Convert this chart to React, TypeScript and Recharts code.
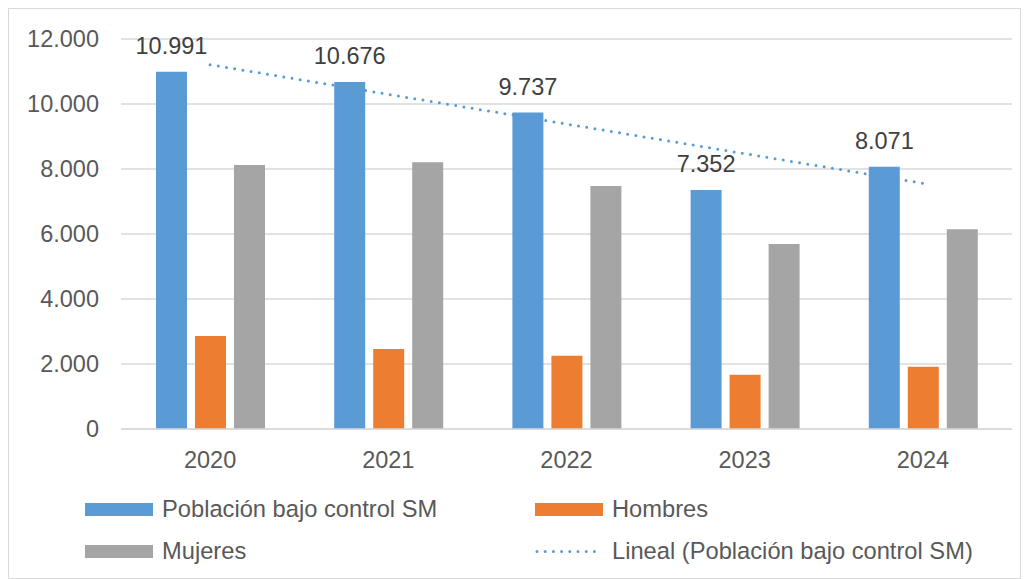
import React from 'react';
import { ComposedChart, Bar, Line, XAxis, YAxis, CartesianGrid, LabelList } from 'recharts';

const years = ['2020', '2021', '2022', '2023', '2024'];
const poblacion = [10991, 10676, 9737, 7352, 8071];
const hombres = [2862, 2462, 2257, 1670, 1915];
const mujeres = [8125, 8205, 7480, 5690, 6150];
const trendValues = [11210, null, null, null, 7560];
const yTicks = [0, 2000, 4000, 6000, 8000, 10000, 12000];

const BLUE = '#5B9BD5';
const ORANGE = '#ED7D31';
const GRAY = '#A5A5A5';
const TEXT = '#595959';
const FONT = '"Liberation Sans", Arial, sans-serif';

const data = years.map((y, i) => ({
  year: y,
  poblacion: poblacion[i],
  hombres: hombres[i],
  mujeres: mujeres[i],
  trend: trendValues[i],
}));

const fmt = (v: number) => String(Math.round(v)).replace(/\B(?=(\d{3})+(?!\d))/g, '.');

const legendItems = [
  { name: 'Población bajo control SM', color: BLUE, type: 'rect', left: 76, top: 487 },
  { name: 'Hombres', color: ORANGE, type: 'rect', left: 526, top: 487 },
  { name: 'Mujeres', color: GRAY, type: 'rect', left: 76, top: 529 },
  { name: 'Lineal (Población bajo control SM)', color: BLUE, type: 'dots', left: 526, top: 529 },
];

export default function App() {
  return (
    <div style={{ position: 'relative', width: 1011, height: 569, border: '1px solid #d9d9d9', background: '#fff', fontFamily: FONT }}>
      <ComposedChart
        width={1011}
        height={569}
        data={data}
        margin={{ top: 30, right: 8, bottom: 109, left: 0 }}
        barGap={8}
        barSize={31}
      >
        <CartesianGrid vertical={false} stroke="#d9d9d9" strokeWidth={1.3} />
        <XAxis
          dataKey="year"
          axisLine={{ stroke: '#d9d9d9', strokeWidth: 1.5 }}
          tickLine={false}
          tickSize={0}
          tickMargin={22}
          height={40}
          tick={{ fill: TEXT, fontSize: 23.5, fontFamily: FONT }}
        />
        <YAxis
          width={112}
          domain={[0, 12000]}
          ticks={yTicks}
          tickFormatter={fmt}
          axisLine={false}
          tickLine={false}
          tickSize={0}
          tickMargin={22}
          tick={{ fill: TEXT, fontSize: 23.5, fontFamily: FONT }}
        />
        <Line
          dataKey="trend"
          stroke={BLUE}
          strokeWidth={3}
          strokeDasharray="0 8.3"
          strokeLinecap="round"
          dot={false}
          activeDot={false}
          connectNulls
          isAnimationActive={false}
          legendType="none"
        />
        <Bar dataKey="poblacion" fill={BLUE} isAnimationActive={false}>
          <LabelList dataKey="poblacion" position="top" offset={18} formatter={(v: any) => fmt(Number(v))} style={{ fill: '#404040', fontSize: 23.5, fontFamily: FONT }} />
        </Bar>
        <Bar dataKey="hombres" fill={ORANGE} isAnimationActive={false} />
        <Bar dataKey="mujeres" fill={GRAY} isAnimationActive={false} />
      </ComposedChart>
      {legendItems.map((it) => (
        <div key={it.name} style={{ position: 'absolute', left: it.left, top: it.top, height: 26, display: 'flex', alignItems: 'center' }}>
          {it.type === 'rect' ? (
            <div style={{ width: 68, height: 13, background: it.color }} />
          ) : (
            <svg width={68} height={13}>
              <line x1={2} y1={6.5} x2={66} y2={6.5} stroke={it.color} strokeWidth={3} strokeDasharray="0 8.2" strokeLinecap="round" />
            </svg>
          )}
          <span style={{ marginLeft: 9, fontSize: 23.7, color: TEXT, fontFamily: FONT, whiteSpace: 'nowrap' }}>{it.name}</span>
        </div>
      ))}
    </div>
  );
}
